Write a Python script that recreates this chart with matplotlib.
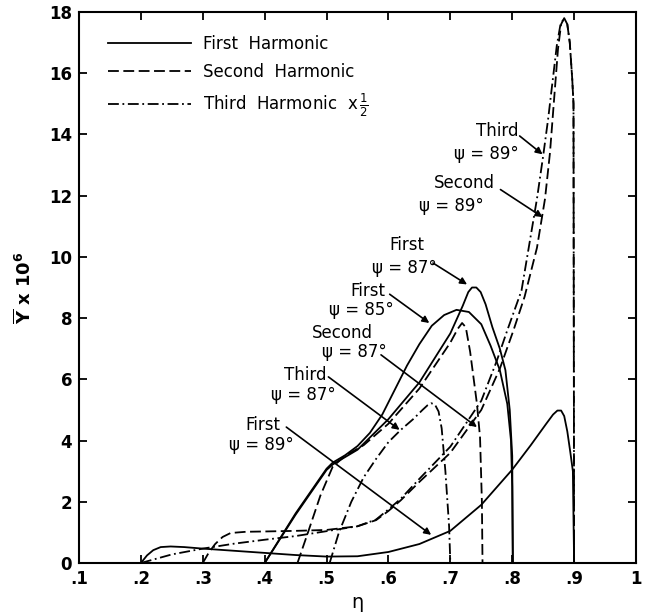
import matplotlib
matplotlib.use("Agg")
import matplotlib.pyplot as plt

# ---------------- data ----------------
# First harmonic, psi = 89 deg (solid)
eta_f89 = [0.200, 0.210, 0.220, 0.232, 0.248, 0.270, 0.300, 0.350, 0.400, 0.450, 0.500,
           0.550, 0.600, 0.650, 0.700, 0.750, 0.800, 0.830, 0.855, 0.866, 0.873, 0.879,
           0.884, 0.889, 0.894, 0.898, 0.900]
y_f89 = [0.0, 0.25, 0.42, 0.52, 0.54, 0.52, 0.47, 0.40, 0.33, 0.26, 0.21,
         0.22, 0.36, 0.62, 1.05, 1.90, 3.05, 3.85, 4.55, 4.85, 4.98, 4.98,
         4.80, 4.30, 3.60, 3.00, 0.0]

# First harmonic, psi = 85 deg (solid)
eta_f85 = [0.400, 0.450, 0.500, 0.510, 0.530, 0.550, 0.570, 0.590, 0.610, 0.630, 0.650,
           0.670, 0.690, 0.710, 0.730, 0.750, 0.765, 0.780, 0.792, 0.798, 0.800, 0.801]
y_f85 = [0.0, 1.62, 3.08, 3.28, 3.52, 3.82, 4.25, 4.85, 5.65, 6.45, 7.15,
         7.75, 8.10, 8.27, 8.20, 7.80, 7.10, 6.30, 5.20, 4.00, 2.50, 0.0]

# First harmonic, psi = 87 deg (solid)
eta_f87 = [0.400, 0.450, 0.500, 0.510, 0.550, 0.600, 0.650, 0.700, 0.720, 0.729, 0.735,
           0.742, 0.749, 0.757, 0.768, 0.780, 0.789, 0.796, 0.800, 0.801]
y_f87 = [0.0, 1.58, 3.04, 3.22, 3.70, 4.70, 5.90, 7.50, 8.40, 8.85, 9.00,
         9.00, 8.85, 8.45, 7.70, 7.00, 6.30, 5.00, 3.50, 0.0]

# Second harmonic, psi = 87 deg (dashed)
eta_s87 = [0.453, 0.470, 0.490, 0.510, 0.530, 0.560, 0.600, 0.650, 0.680, 0.700, 0.712,
           0.719, 0.725, 0.732, 0.743, 0.748, 0.751, 0.752]
y_s87 = [0.0, 1.0, 2.2, 3.15, 3.50, 3.85, 4.55, 5.70, 6.60, 7.20, 7.65,
         7.84, 7.70, 6.90, 5.20, 4.10, 2.00, 0.0]

# Third harmonic x 1/2, psi = 87 deg (dash-dot)
eta_t87 = [0.505, 0.520, 0.540, 0.560, 0.580, 0.600, 0.620, 0.640, 0.655, 0.663, 0.669,
           0.675, 0.681, 0.686, 0.692, 0.698, 0.700]
y_t87 = [0.0, 1.0, 2.0, 2.8, 3.4, 3.95, 4.35, 4.70, 5.00, 5.15, 5.22,
         5.18, 4.95, 4.40, 3.00, 1.20, 0.0]

# Second harmonic, psi = 89 deg (dashed)
eta_s89 = [0.300, 0.310, 0.320, 0.332, 0.345, 0.370, 0.400, 0.450, 0.500, 0.550, 0.580,
           0.600, 0.620, 0.650, 0.700, 0.750, 0.780, 0.802, 0.820, 0.840, 0.853, 0.861,
           0.869, 0.874, 0.879, 0.884, 0.889, 0.893, 0.897, 0.899, 0.900]
y_s89 = [0.0, 0.35, 0.62, 0.85, 0.98, 1.02, 1.03, 1.05, 1.08, 1.20, 1.40,
         1.70, 2.05, 2.65, 3.60, 5.00, 6.35, 7.60, 8.70, 10.30, 11.90, 13.40,
         15.50, 16.80, 17.60, 17.80, 17.60, 17.00, 15.80, 15.00, 0.0]

# Third harmonic x 1/2, psi = 89 deg (dash-dot)
eta_t89 = [0.200, 0.250, 0.300, 0.350, 0.400, 0.450, 0.500, 0.550, 0.580, 0.600, 0.620,
           0.650, 0.700, 0.750, 0.775, 0.792, 0.815, 0.840, 0.850, 0.858, 0.865,
           0.872, 0.878, 0.884, 0.889, 0.893, 0.897, 0.899, 0.900]
y_t89 = [0.0, 0.28, 0.47, 0.63, 0.76, 0.88, 1.04, 1.20, 1.42, 1.75, 2.10,
         2.75, 3.80, 5.30, 6.60, 7.60, 8.90, 11.90, 13.30, 14.50, 15.70,
         16.90, 17.60, 17.80, 17.60, 17.00, 15.80, 15.00, 0.0]

x_ticks = [0.1, 0.2, 0.3, 0.4, 0.5, 0.6, 0.7, 0.8, 0.9, 1.0]
x_tick_labels = [".1", ".2", ".3", ".4", ".5", ".6", ".7", ".8", ".9", "1"]
y_ticks = [0, 2, 4, 6, 8, 10, 12, 14, 16, 18]
y_tick_labels = ["0", "2", "4", "6", "8", "10", "12", "14", "16", "18"]

legend_labels = ["First  Harmonic", "Second  Harmonic", r"Third  Harmonic  x$\,\frac{1}{2}$"]

# annotation texts: (line1, line1 pos, line2, line2 pos, arrow tail, arrow head)
annotations = [
    ("Third", (0.776, 14.1), "ψ = 89°", (0.758, 13.35), (0.812, 13.95), (0.849, 13.35)),
    ("Second", (0.723, 12.4), "ψ = 89°", (0.702, 11.65), (0.781, 12.2), (0.849, 11.3)),
    ("First", (0.629, 10.4), "ψ = 87°", (0.626, 9.65), (0.672, 9.8), (0.727, 9.1)),
    ("First", (0.566, 8.9), "ψ = 85°", (0.556, 8.25), (0.602, 8.78), (0.666, 7.84)),
    ("Second", (0.526, 7.5), "ψ = 87°", (0.545, 6.9), (0.588, 6.8), (0.743, 4.44)),
    ("Third", (0.465, 6.14), "ψ = 87°", (0.462, 5.5), (0.503, 6.08), (0.618, 4.35)),
    ("First", (0.397, 4.5), "ψ = 89°", (0.395, 3.85), (0.435, 4.44), (0.669, 0.92)),
]

# ---------------- plotting ----------------
plt.rcParams['font.family'] = ['DejaVu Sans']
fig = plt.figure(figsize=(6.45, 6.13), dpi=100)
ax = fig.add_axes([79 / 645, 1 - 563 / 613, (636 - 79) / 645, (563 - 12) / 613])

lw = 1.3
dash = (6, 2.5)
dashdot = (6, 2, 1, 2)

l1, = ax.plot(eta_f89, y_f89, color='k', lw=lw)
ax.plot(eta_f85, y_f85, color='k', lw=lw)
ax.plot(eta_f87, y_f87, color='k', lw=lw)
l2, = ax.plot(eta_s87, y_s87, color='k', lw=lw, dashes=dash)
ax.plot(eta_s89, y_s89, color='k', lw=lw, dashes=dash)
l3, = ax.plot(eta_t87, y_t87, color='k', lw=lw, dashes=dashdot)
ax.plot(eta_t89, y_t89, color='k', lw=lw, dashes=dashdot)

ax.set_xlim(0.1, 1.0)
ax.set_ylim(0, 18)
ax.set_xticks(x_ticks)
ax.set_xticklabels(x_tick_labels)
ax.set_yticks(y_ticks)
ax.set_yticklabels(y_tick_labels)
ax.tick_params(direction='in', length=6, width=1.3, top=True, right=True,
               labelsize=12, pad=5)
for lab in ax.get_xticklabels() + ax.get_yticklabels():
    lab.set_fontweight('bold')
for sp in ax.spines.values():
    sp.set_linewidth(1.5)

ax.set_xlabel("η", fontsize=14, labelpad=4)
ax.set_ylabel(r"$\overline{\mathbf{Y}}$ x 10$^{\mathbf{6}}$", fontsize=13,
              fontweight='bold', labelpad=10)

leg = ax.legend([l1, l2, l3], legend_labels, loc='upper left',
                bbox_to_anchor=(0.025, 0.985), frameon=False, fontsize=12,
                handlelength=5.0, handletextpad=0.7, labelspacing=0.6)

for t1, p1, t2, p2, tail, head in annotations:
    ax.text(p1[0], p1[1], t1, ha='center', va='center', fontsize=12)
    ax.text(p2[0], p2[1], t2, ha='center', va='center', fontsize=12)
    ax.annotate('', xy=head, xytext=tail,
                arrowprops=dict(arrowstyle='-|>', color='k', lw=1.2,
                                mutation_scale=10, shrinkA=0, shrinkB=0))

fig.savefig("out.png", dpi=100)
